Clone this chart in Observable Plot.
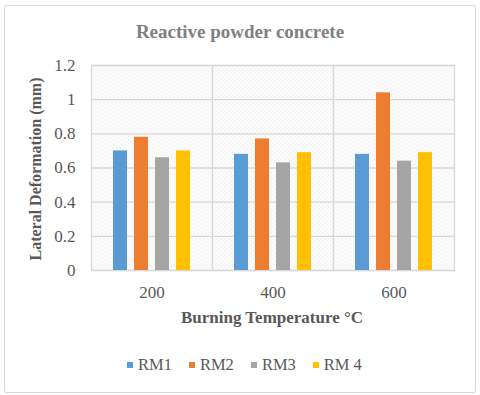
<!DOCTYPE html>
<html><head><meta charset="utf-8">
<script src="https://cdn.jsdelivr.net/npm/d3@7"></script>
<script src="https://cdn.jsdelivr.net/npm/@observablehq/plot@0.6"></script>
<style>
body{margin:0;background:#fff;}
#wrap{position:relative;width:480px;height:395px;font-family:"Liberation Serif","Times New Roman",serif;overflow:hidden;background:#fff}
#border{position:absolute;left:4px;top:5px;width:472px;height:388px;border:1px solid #d9d9d9;border-radius:2px;box-sizing:border-box}
#chart{position:absolute;left:0;top:0}
.lbl{position:absolute;white-space:nowrap;transform:translate(-50%,-50%);font-weight:bold;line-height:1}
#title{left:240px;top:31px;font-size:19px;color:#808080}
#xlab{left:272px;top:317px;font-size:17px;color:#595959}
#ylab{left:36px;top:169px;font-size:16px;color:#595959;transform:translate(-50%,-50%) rotate(-90deg)}
#legend{position:absolute;left:127px;top:356px;height:18px;display:flex;align-items:center;font-size:16.5px;color:#595959;line-height:1}
#legend .it{display:flex;align-items:center;margin-right:17px}
#legend .sw{width:6px;height:6px;margin-right:5px}
</style></head>
<body>
<div id="wrap">
<div id="border"></div>
<div id="chart"></div>
<div class="lbl" id="title">Reactive powder concrete</div>
<div class="lbl" id="xlab">Burning Temperature °C</div>
<div class="lbl" id="ylab">Lateral Deformation (mm)</div>
<div id="legend"></div>
</div>
<script>
const temperatures = ["200", "400", "600"];
const series = ["RM1", "RM2", "RM3", "RM 4"];
const rm1 = [0.70, 0.68, 0.68];
const rm2 = [0.78, 0.77, 1.04];
const rm3 = [0.66, 0.63, 0.64];
const rm4 = [0.70, 0.69, 0.69];
const yTicks = [0, 0.2, 0.4, 0.6, 0.8, 1.0, 1.2];
const colors = ["#5b9bd5", "#ed7d31", "#a5a5a5", "#ffc000"];

const values = [rm1, rm2, rm3, rm4];
const table = [];
temperatures.forEach((t, i) => series.forEach((s, j) => table.push({temp: t, series: s, value: values[j][i]})));

const chart = Plot.plot({
  width: 480, height: 395,
  marginTop: 65, marginBottom: 125, marginLeft: 90, marginRight: 25,
  style: {fontFamily: "'Liberation Serif','Times New Roman',serif", fontSize: "17px", color: "#595959", background: "transparent"},
  fx: {domain: temperatures, padding: 0, axis: "bottom", tickSize: 0, tickPadding: 15, label: null},
  x: {domain: series, axis: null, paddingInner: 0.318, paddingOuter: 0.925},
  y: {domain: [0, 1.2], ticks: yTicks, tickFormat: d => String(+d.toFixed(1)), tickSize: 0, tickPadding: 16, label: null},
  color: {domain: series, range: colors},
  marks: [
    Plot.frame({fill: "url(#hatch)", stroke: "#d9d9d9", strokeWidth: 1.3}),
    Plot.gridY(yTicks, {stroke: "#d9d9d9", strokeOpacity: 1, strokeWidth: 1.3}),
    Plot.barY(table, {fx: "temp", x: "series", y: "value", fill: "series"})
  ]
});
const ns = "http://www.w3.org/2000/svg";
const defs = document.createElementNS(ns, "defs");
defs.innerHTML = '<pattern id="hatch" patternUnits="userSpaceOnUse" width="4" height="4"><rect width="4" height="4" fill="#ffffff"/><path d="M-1,-1 L5,5 M3,-1 L5,1 M-1,3 L1,5" stroke="#e3e3e3" stroke-width="0.9"/></pattern>';
chart.insertBefore(defs, chart.firstChild);
document.getElementById("chart").appendChild(chart);

const lg = document.getElementById("legend");
series.forEach((s, i) => {
  const it = document.createElement("div"); it.className = "it";
  const sw = document.createElement("div"); sw.className = "sw"; sw.style.background = colors[i];
  const tx = document.createElement("span"); tx.textContent = s;
  it.appendChild(sw); it.appendChild(tx); lg.appendChild(it);
});
</script>
</body></html>
